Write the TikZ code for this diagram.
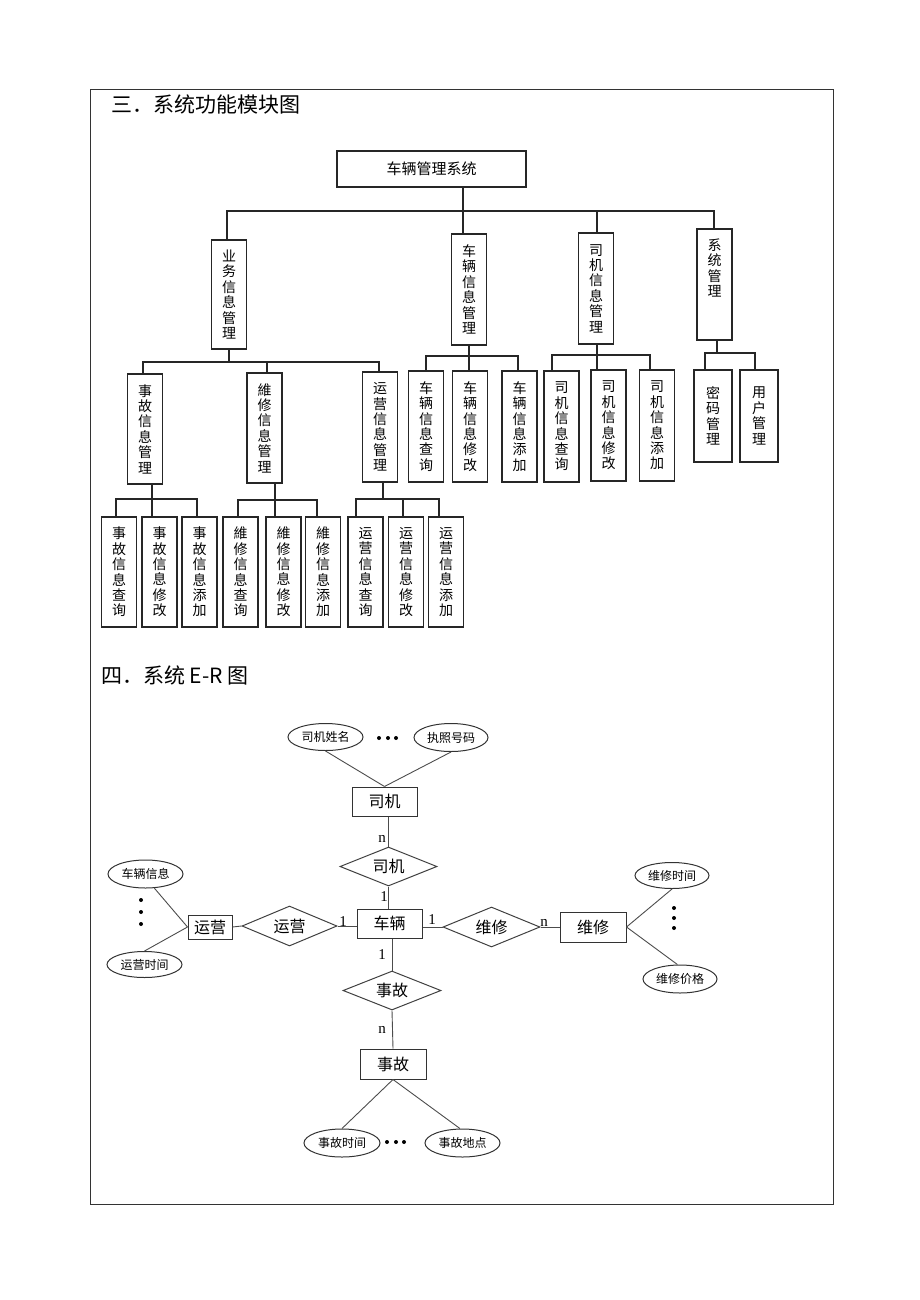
\documentclass[tikz,border=0pt]{standalone}
\usepackage{fontspec}
\setmainfont{Noto Sans CJK SC}
\newfontfamily\cardfont{Liberation Serif}
\usetikzlibrary{shapes.geometric}

\tikzstyle{module} = [rectangle, draw=black!85, line width=1.2pt, minimum width=35, inner sep=0pt, align=center, font=\fontsize{14}{15.4}\selectfont]
\tikzstyle{modtext} = [inner sep=0pt, align=center, font=\fontsize{14}{15.4}\selectfont]
\tikzstyle{branch} = [draw=black!85, line width=1.2pt]
\tikzstyle{entity} = [rectangle, draw=black!80, line width=1pt, inner sep=0pt, font=\fontsize{16}{18}\selectfont]
\tikzstyle{relation} = [diamond, draw=black!75, line width=1pt, inner sep=0pt, aspect=2.5, font=\fontsize{16}{18}\selectfont]
\tikzstyle{attribute} = [ellipse, draw=black!80, line width=1pt, inner sep=0pt, font=\fontsize{12}{14}\selectfont]
\tikzstyle{erline} = [draw=black!70, line width=0.9pt]
\tikzstyle{card} = [inner sep=0pt, font=\cardfont\fontsize{15}{16}\selectfont]
\tikzstyle{heading} = [anchor=west, inner sep=0pt, font=\fontsize{21}{24}\selectfont]

\begin{document}
\begin{tikzpicture}[x=1pt, y=-1pt]

    \useasboundingbox (0,0) rectangle (920,1300);
    \draw [black!80, line width=1pt] (90,90) rectangle (833,1204);

    \node (title3) [heading] at (111,105) {三．系统功能模块图};

    % module tree
    \node (root) [module, minimum width=189, minimum height=36, font=\fontsize{15}{17}\selectfont] at (431.5,169) {车辆管理系统};

    \node (biz) [module, minimum height=109] at (229,294.5) {业\\务\\信\\息\\管\\理};
    \node (veh) [module, minimum height=111] at (469,289.5) {车\\辆\\信\\息\\管\\理};
    \node (drv) [module, minimum height=111] at (596,288.5) {司\\机\\信\\息\\管\\理};
    \node (sys) [module, minimum height=111, label={[modtext, anchor=north, yshift=-10]north:系\\统\\管\\理}] at (714.5,284.5) {};

    \node (acc) [module, minimum height=110] at (145,429) {事\\故\\信\\息\\管\\理};
    \node (rep) [module, minimum height=110] at (264.5,428) {維\\修\\信\\息\\管\\理};
    \node (ops) [module, minimum height=110] at (380,427) {运\\营\\信\\息\\管\\理};
    \node (vehq) [module, minimum height=111] at (426,426.5) {车\\辆\\信\\息\\查\\询};
    \node (vehm) [module, minimum height=111] at (470,426.5) {车\\辆\\信\\息\\修\\改};
    \node (veha) [module, minimum height=111] at (519.5,426.5) {车\\辆\\信\\息\\添\\加};
    \node (drvq) [module, minimum height=111] at (561.5,426.5) {司\\机\\信\\息\\查\\询};
    \node (drvm) [module, minimum height=111] at (608.5,425.5) {司\\机\\信\\息\\修\\改};
    \node (drva) [module, minimum height=111] at (657,425.5) {司\\机\\信\\息\\添\\加};
    \node (pwd) [module, minimum width=38, minimum height=92] at (713,416) {密\\码\\管\\理};
    \node (usr) [module, minimum width=38, minimum height=92] at (759,416) {用\\户\\管\\理};

    \node (accq) [module, minimum height=110] at (119,572) {事\\故\\信\\息\\查\\询};
    \node (accm) [module, minimum height=110] at (159.5,572) {事\\故\\信\\息\\修\\改};
    \node (acca) [module, minimum height=110] at (199.5,572) {事\\故\\信\\息\\添\\加};
    \node (repq) [module, minimum height=110] at (240.5,572) {維\\修\\信\\息\\查\\询};
    \node (repm) [module, minimum height=110] at (283.5,572) {維\\修\\信\\息\\修\\改};
    \node (repa) [module, minimum height=110] at (323,572) {維\\修\\信\\息\\添\\加};
    \node (opsq) [module, minimum height=110] at (365.5,572) {运\\营\\信\\息\\查\\询};
    \node (opsm) [module, minimum height=110] at (406,572) {运\\营\\信\\息\\修\\改};
    \node (opsa) [module, minimum height=110] at (446,572) {运\\营\\信\\息\\添\\加};

    \draw [branch] (root.south -| 463,0) -- (veh.north -| 463,0);
    \draw [branch] (biz.north -| 227,0) -- (227,211) -- (714,211) -- (sys.north -| 714,0);
    \draw [branch] (drv.north -| 597,0) -- (597,211);

    \draw [branch] (biz.south) -- (229,362);
    \draw [branch] (acc.north -| 143,0) -- (143,362) -- (379,362) -- (ops.north -| 379,0);
    \draw [branch] (rep.north -| 267,0) -- (267,362);

    \draw [branch] (veh.south) -- (vehm.north -| 469,0);
    \draw [branch] (vehq.north) -- (426,356) -- (518,356) -- (veha.north -| 518,0);

    \draw [branch] (drv.south -| 597,0) -- (drvm.north -| 597,0);
    \draw [branch] (drvq.north -| 552,0) -- (552,355) -- (650,355) -- (drva.north -| 650,0);

    \draw [branch] (sys.south -| 717,0) -- (717,353);
    \draw [branch] (pwd.north -| 705,0) -- (705,353) -- (755,353) -- (usr.north -| 755,0);

    \draw [branch] (acc.south -| 152,0) -- (accm.north -| 152,0);
    \draw [branch] (accq.north -| 116,0) -- (116,499) -- (197,499) -- (acca.north -| 197,0);

    \draw [branch] (rep.south -| 275,0) -- (repm.north -| 275,0);
    \draw [branch] (repq.north -| 238,0) -- (238,500) -- (317,500) -- (repa.north -| 317,0);

    \draw [branch] (ops.south -| 383,0) -- (383,499);
    \draw [branch] (opsq.north -| 356,0) -- (356,499) -- (439,499) -- (opsa.north -| 439,0);
    \draw [branch] (opsm.north -| 403,0) -- (403,499);

    % E-R diagram
    \node (title4) [heading] at (101,675) {四．系统 E-R 图};

    \node (drvE) [entity, minimum width=65, minimum height=29] at (384.5,801.5) {司机};
    \node (vehE) [entity, minimum width=65, minimum height=29] at (389.5,923.5) {车辆};
    \node (opsE) [entity, minimum width=44, minimum height=24] at (210,927) {运营};
    \node (repE) [entity, minimum width=66, minimum height=30] at (593,927) {维修};
    \node (accE) [entity, minimum width=66, minimum height=30] at (393,1064) {事故};

    \node (drvR) [relation, minimum width=97, minimum height=39] at (388.5,866.5) {司机};
    \node (opsR) [relation, minimum width=95, minimum height=40] at (289.5,926) {运营};
    \node (repR) [relation, minimum width=97, minimum height=40] at (491.5,927) {维修};
    \node (accR) [relation, minimum width=98, minimum height=39] at (392,990.5) {事故};

    \node (dname) [attribute, minimum width=75, minimum height=27] at (325.5,737) {司机姓名};
    \node (lic) [attribute, minimum width=74, minimum height=28] at (451,737.5) {执照号码};
    \node (vinfo) [attribute, minimum width=75, minimum height=28] at (145.5,874) {车辆信息};
    \node (otime) [attribute, minimum width=75, minimum height=26] at (144.5,964.5) {运营时间};
    \node (rtime) [attribute, minimum width=74, minimum height=26] at (672,875.5) {维修时间};
    \node (rprice) [attribute, minimum width=74, minimum height=28] at (680,979) {维修价格};
    \node (atime) [attribute, minimum width=76, minimum height=28] at (342,1143) {事故时间};
    \node (aplace) [attribute, minimum width=75, minimum height=28] at (462.5,1143) {事故地点};

    \draw [erline] (dname.south) -- (drvE.north);
    \draw [erline] (lic.south) -- (drvE.north);
    \draw [erline] (drvR.north) -- (drvR.north |- drvE.south);
    \draw [erline] (drvR.south) -- (drvR.south |- vehE.north);
    \draw [erline] (opsR.east) -- (opsR.east -| vehE.west);
    \draw [erline] (opsR.west) -- (opsE.east);
    \draw [erline] (vinfo.-58) -- (opsE.west);
    \draw [erline] (otime.north) -- (opsE.west);
    \draw [erline] (repR.west) -- (repR.west -| vehE.east);
    \draw [erline] (repR.east) -- (repE.west);
    \draw [erline] (repE.east) -- (rtime.south);
    \draw [erline] (repE.east) -- (rprice.100);
    \draw [erline] (accR.north) -- (accR.north |- vehE.south);
    \draw [erline] (accR.south) -- (accE.north);
    \draw [erline] (accE.south) -- (atime.north);
    \draw [erline] (accE.south) -- (aplace.100);

    \node (cdrv) [card] at (382,839) {n};
    \node (cveh1) [card] at (384,897) {1};
    \node (cveh2) [card] at (343,922) {1};
    \node (cveh3) [card] at (432,920) {1};
    \node (crep) [card] at (544,923) {n};
    \node (cveh4) [card] at (382,955) {1};
    \node (cacc) [card] at (382,1030) {n};

    % ellipsis dots
    \fill [black] (379,738) circle (2) (388,738) circle (2) (396,738) circle (2);
    \fill [black] (387,1142) circle (2) (396,1142) circle (2) (404,1142) circle (2);
    \fill [black] (141,900) circle (2) (141,912) circle (2) (141,924) circle (2);
    \fill [black] (674,908) circle (2) (674,918) circle (2) (674,928) circle (2);

\end{tikzpicture}
\end{document}
